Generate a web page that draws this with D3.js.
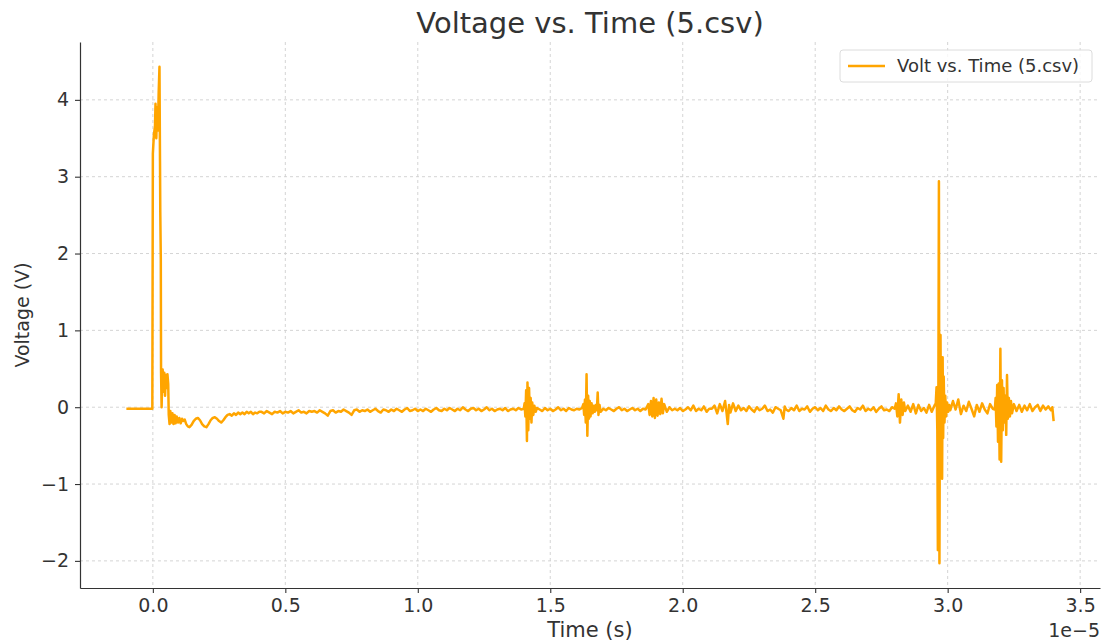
<html>
<head>
<meta charset="utf-8">
<style>
body { margin: 0; background: #fff; }
text { font-family: "DejaVu Sans", sans-serif; fill: #333; }
</style>
<script src="https://d3js.org/d3.v7.min.js"></script>
</head>
<body>
<svg id="chart" width=1105 height=643></svg>
<script>

// time is in units of 1e-5 s, voltage in V  -> [time, volt]
var preTrigger = [[-0.10,-0.02],[-0.07,-0.02],[-0.04,-0.02],[-0.01,-0.02],[-0.002,-0.02]];

var mainPulse = [[0.000,3.30],[0.004,3.55],[0.008,3.65],[0.010,3.95],[0.013,3.50],[0.016,3.90],[0.019,3.60],
  [0.022,4.10],[0.025,4.43],[0.027,3.20],[0.028,2.55],[0.030,1.92],[0.031,0.45],[0.033,0.00],[0.035,0.30],
  [0.037,0.49],[0.040,0.20],[0.043,0.45],[0.046,0.15],[0.049,0.42],[0.052,0.25],[0.055,0.43],[0.058,0.30],
  [0.060,-0.10],[0.063,-0.22]];

var ringDown = [[0.066,-0.05],[0.070,-0.20],[0.074,-0.08],[0.078,-0.22],[0.082,-0.10],[0.086,-0.21],[0.090,-0.12],
  [0.095,-0.20],[0.100,-0.14],[0.105,-0.21],[0.110,-0.15],[0.115,-0.18],[0.120,-0.16],[0.126,-0.22],[0.132,-0.25],
  [0.138,-0.26],[0.146,-0.23],[0.154,-0.18],[0.162,-0.15],[0.170,-0.14],[0.178,-0.17],[0.186,-0.22],[0.194,-0.25],
  [0.202,-0.26],[0.210,-0.22],[0.218,-0.17],[0.226,-0.14],[0.234,-0.13],[0.242,-0.15],[0.250,-0.18],[0.258,-0.20],
  [0.266,-0.17],[0.274,-0.13],[0.282,-0.10],[0.290,-0.09],[0.298,-0.11],[0.306,-0.08],[0.314,-0.10],[0.322,-0.07],
  [0.330,-0.09],[0.338,-0.07],[0.346,-0.09],[0.354,-0.06],[0.362,-0.08],[0.370,-0.06],[0.378,-0.09],[0.386,-0.07],
  [0.394,-0.08],[0.402,-0.06]];

var quietA = [[0.41,-0.06],[0.42,-0.08],[0.43,-0.05],[0.44,-0.07],[0.45,-0.09],[0.46,-0.06],[0.47,-0.07],[0.48,-0.05],[0.49,-0.08],[0.50,-0.06],
  [0.51,-0.07],[0.52,-0.05],[0.53,-0.08],[0.54,-0.06],[0.55,-0.04],[0.56,-0.07],[0.57,-0.06],[0.58,-0.08],[0.59,-0.05],[0.60,-0.06],
  [0.61,-0.05],[0.62,-0.07],[0.63,-0.04],[0.64,-0.06],[0.65,-0.08],[0.66,-0.11],[0.67,-0.05],[0.68,-0.04],[0.69,-0.07],[0.70,-0.05],
  [0.71,-0.06],[0.72,-0.03],[0.73,-0.05],[0.74,-0.07],[0.75,-0.10],[0.76,-0.04],[0.77,-0.03],[0.78,-0.06],[0.79,-0.04],[0.80,-0.05],
  [0.81,-0.03],[0.82,-0.06],[0.83,-0.04],[0.84,-0.02],[0.85,-0.05],[0.86,-0.07],[0.87,-0.03],[0.88,-0.04],[0.89,-0.06],[0.90,-0.03],
  [0.91,-0.05],[0.92,-0.02],[0.93,-0.04],[0.94,-0.06],[0.95,-0.03],[0.96,-0.01],[0.97,-0.05],[0.98,-0.04],[0.99,-0.02],[1.00,-0.05],
  [1.01,-0.03],[1.02,-0.05],[1.03,-0.02],[1.04,-0.04],[1.05,-0.06],[1.06,-0.03],[1.07,-0.01],[1.08,-0.04],[1.09,-0.05],[1.10,-0.02],
  [1.11,-0.04],[1.12,-0.01],[1.13,-0.03],[1.14,-0.05],[1.15,-0.02],[1.16,-0.04],[1.17,0.00],[1.18,-0.03],[1.19,-0.05],[1.20,-0.02],
  [1.21,-0.01],[1.22,-0.04],[1.23,-0.02],[1.24,-0.05],[1.25,-0.03],[1.26,0.00],[1.27,-0.04],[1.28,-0.02],[1.29,-0.05],[1.30,-0.03],
  [1.31,-0.02],[1.32,-0.04],[1.33,-0.01],[1.34,-0.05],[1.35,-0.03],[1.36,-0.02],[1.37,-0.04],[1.38,-0.01],[1.39,-0.03],[1.40,-0.02]];

var burst14 = [[1.403,0.05],[1.406,-0.12],[1.409,0.22],[1.412,-0.44],[1.414,0.32],[1.417,-0.30],[1.420,0.25],[1.423,-0.15],
  [1.426,0.12],[1.429,-0.20],[1.432,0.06],[1.436,-0.10],[1.440,0.02],[1.445,-0.06],[1.450,-0.01]];

var quietB = [[1.46,-0.03],[1.47,-0.05],[1.48,-0.01],[1.49,-0.04],[1.50,-0.02],[1.51,-0.05],[1.52,-0.03],[1.53,0.00],[1.54,-0.04],
  [1.55,-0.02],[1.56,-0.05],[1.57,-0.01],[1.58,-0.03],[1.59,-0.04],[1.60,-0.02],[1.61,-0.03],[1.62,-0.01]];

var burst16 = [[1.625,0.04],[1.628,-0.10],[1.631,0.10],[1.634,-0.20],[1.637,0.43],[1.640,-0.37],[1.643,0.15],[1.646,-0.15],
  [1.649,0.08],[1.652,-0.12],[1.656,0.05],[1.660,-0.08],[1.664,0.02],[1.668,-0.06],[1.672,0.03],[1.676,-0.04],[1.679,0.19],
  [1.682,-0.10],[1.686,0.03],[1.690,-0.06],[1.700,-0.02]];

var quietC = [[1.71,-0.04],[1.72,-0.01],[1.73,-0.03],[1.74,-0.05],[1.75,-0.02],[1.76,0.00],[1.77,-0.04],[1.78,-0.02],
  [1.79,-0.05],[1.80,-0.03],[1.81,-0.01],[1.82,-0.04],[1.83,-0.02],[1.84,-0.05],[1.85,-0.02],[1.86,-0.03]];

var burst19 = [[1.870,0.04],[1.875,-0.10],[1.880,0.08],[1.885,-0.12],[1.890,0.12],[1.895,-0.14],[1.900,0.10],[1.905,-0.11],
  [1.910,0.06],[1.915,-0.09],[1.920,0.11],[1.925,-0.08],[1.930,0.04],[1.940,-0.06],[1.950,0.00],[1.960,-0.04]];

var quietD = [[1.97,-0.02],[1.98,-0.04],[1.99,-0.01],[2.00,-0.05],[2.01,-0.03],[2.02,0.00],[2.03,-0.04],[2.04,0.02],[2.05,-0.05],
  [2.06,-0.02],[2.07,-0.04],[2.08,0.01],[2.09,-0.06],[2.10,-0.02],[2.11,-0.02],[2.12,0.02],[2.13,-0.08],[2.14,0.04],[2.15,-0.05],
  [2.16,0.08],[2.165,-0.06],[2.170,-0.22],[2.175,0.03],[2.18,-0.07],[2.19,0.05],[2.20,-0.05],[2.21,0.02],[2.22,-0.04],[2.23,-0.01]];

var quietE = [[2.24,-0.05],[2.25,0.01],[2.26,-0.03],[2.27,-0.06],[2.28,0.00],[2.29,-0.04],[2.30,-0.02],[2.31,0.02],[2.32,-0.05],
  [2.33,-0.03],[2.34,-0.07],[2.35,0.00],[2.36,-0.02],[2.37,-0.04],[2.38,-0.15],[2.385,0.01],[2.39,-0.03],[2.40,-0.05],
  [2.41,-0.01],[2.42,-0.04],[2.43,0.02],[2.44,-0.05],[2.45,-0.02],[2.46,-0.03],[2.47,0.01],[2.48,-0.06],[2.49,-0.02],[2.50,0.00],
  [2.51,-0.04],[2.52,-0.01],[2.53,-0.05],[2.54,0.02],[2.55,-0.03],[2.56,-0.05],[2.57,-0.01],[2.58,-0.04],[2.59,0.01],[2.60,-0.03],
  [2.61,-0.05],[2.62,-0.02],[2.63,0.01],[2.64,-0.04],[2.65,-0.06],[2.66,-0.01],[2.67,-0.03],[2.68,0.02],[2.69,-0.05],[2.70,-0.02],
  [2.71,-0.04],[2.72,0.00],[2.73,-0.06],[2.74,-0.02],[2.75,0.01],[2.76,-0.04],[2.77,-0.03],[2.78,-0.05],[2.79,0.00],[2.80,-0.02]];

var burst28 = [[2.805,0.05],[2.810,-0.12],[2.815,0.17],[2.820,-0.20],[2.825,0.10],[2.830,-0.10],[2.835,0.06],[2.840,-0.05],
  [2.850,0.02],[2.860,-0.06],[2.870,0.04],[2.880,-0.08],[2.890,0.03],[2.900,-0.05],[2.910,-0.01],[2.920,-0.07],[2.930,0.03],
  [2.940,-0.06],[2.950,0.02]];

var spike30 = [[2.955,0.05],[2.958,0.26],[2.961,-0.30],[2.963,-1.86],[2.965,0.30],[2.967,2.94],[2.969,-2.03],[2.971,0.60],
  [2.973,0.94],[2.975,-0.50],[2.977,0.50],[2.979,-0.93],[2.981,0.65],[2.983,-0.40],[2.985,0.40],[2.988,-0.20],[2.991,0.15],
  [2.994,-0.12],[2.998,0.06],[3.002,-0.06],[3.006,0.03],[3.010,-0.04]];

var quietF = [[3.02,0.08],[3.03,-0.03],[3.04,0.10],[3.05,-0.09],[3.06,0.02],[3.07,-0.05],[3.08,0.07],[3.09,-0.02],[3.10,-0.12],
  [3.11,0.03],[3.12,-0.06],[3.13,0.05],[3.14,-0.03],[3.15,-0.08],[3.16,0.04],[3.17,-0.02],[3.178,-0.03]];

var burst32 = [[3.181,0.12],[3.184,-0.25],[3.187,0.29],[3.190,-0.45],[3.193,0.31],[3.196,-0.68],[3.199,0.76],[3.202,-0.71],
  [3.205,0.35],[3.208,-0.30],[3.211,0.25],[3.214,-0.20],[3.218,0.15],[3.221,-0.36],[3.224,0.42],[3.227,-0.15],[3.231,0.12],
  [3.235,-0.12],[3.239,0.08],[3.243,-0.08],[3.250,0.04],[3.260,-0.05]];

var tail = [[3.27,0.03],[3.28,-0.06],[3.29,0.02],[3.30,-0.04],[3.31,0.04],[3.32,-0.05],[3.33,0.00],[3.34,0.03],[3.35,-0.05],
  [3.36,0.02],[3.37,-0.03],[3.38,0.01],[3.39,-0.04],[3.395,0.00],[3.40,-0.18]];

var xTicks = [0.0, 0.5, 1.0, 1.5, 2.0, 2.5, 3.0, 3.5];
var yTicks = [-2, -1, 0, 1, 2, 3, 4];

var trace = preTrigger.concat(mainPulse, ringDown, quietA, burst14, quietB, burst16, quietC, burst19,
  quietD, quietE, burst28, spike30, quietF, burst32, tail);

var padL = 80, padR = 1100, padT = 42, padB = 588;
var svg = d3.select("#chart");

// 5% padding like matplotlib
var xExt = d3.extent(trace, function(d){ return d[0]; });
var yExt = d3.extent(trace, function(d){ return d[1]; });
var xPad = (xExt[1]-xExt[0])*0.05, yPad = (yExt[1]-yExt[0])*0.05;

var x = d3.scaleLinear().domain([xExt[0]-xPad, xExt[1]+xPad]).range([padL, padR]);
var y = d3.scaleLinear().domain([yExt[0]-yPad, yExt[1]+yPad]).range([padB, padT]);

// grid
svg.append("g").selectAll("line").data(xTicks).enter().append("line")
  .attr("x1", function(d){ return x(d); }).attr("x2", function(d){ return x(d); })
  .attr("y1", padT).attr("y2", padB)
  .attr("stroke", "#cfcfcf").attr("stroke-width", 0.9).attr("stroke-dasharray", "3,3");
svg.append("g").selectAll("line").data(yTicks).enter().append("line")
  .attr("y1", function(d){ return y(d); }).attr("y2", function(d){ return y(d); })
  .attr("x1", padL).attr("x2", padR)
  .attr("stroke", "#cfcfcf").attr("stroke-width", 0.9).attr("stroke-dasharray", "3,3");

// the line
svg.append("path")
  .datum(trace)
  .attr("fill", "none")
  .attr("stroke", "#FFA500")
  .attr("stroke-width", 2.5)
  .attr("stroke-linejoin", "round")
  .attr("d", d3.line()
    .x(function(d){ return x(d[0]); })
    .y(function(d){ return y(d[1]); }));

// axes (only left + bottom spines)
var xAxis = svg.append("g")
  .attr("transform", "translate(0," + padB + ")")
  .call(d3.axisBottom(x).tickValues(xTicks).tickFormat(d3.format(".1f")).tickSize(5).tickSizeOuter(0).tickPadding(6));
var yAxis = svg.append("g")
  .attr("transform", "translate(" + padL + ",0)")
  .call(d3.axisLeft(y).tickValues(yTicks).tickFormat(d3.format("d")).tickSize(5).tickSizeOuter(0).tickPadding(6));
[xAxis, yAxis].forEach(function(a){
  a.select(".domain").attr("stroke", "#333").attr("stroke-width", 1.2);
  a.selectAll(".tick line").attr("stroke", "#333").attr("stroke-width", 1.1);
  a.selectAll(".tick text").attr("font-family", "DejaVu Sans").attr("font-size", 19).attr("fill", "#333");
});

// texts
svg.append("text").attr("x", (padL+padR)/2).attr("y", 33).attr("text-anchor", "middle")
  .attr("font-size", 29).text("Voltage vs. Time (5.csv)");
svg.append("text").attr("x", (padL+padR)/2).attr("y", 637).attr("text-anchor", "middle")
  .attr("font-size", 21).text("Time (s)");
svg.append("text").attr("transform", "translate(29," + ((padT+padB)/2) + ") rotate(-90)")
  .attr("text-anchor", "middle").attr("font-size", 19).text("Voltage (V)");
svg.append("text").attr("x", padR).attr("y", 637).attr("text-anchor", "end")
  .attr("font-size", 19).text("1e\u22125");

// legend
var lg = svg.append("g").attr("transform", "translate(840,50)");
lg.append("rect").attr("width", 252).attr("height", 32).attr("rx", 3)
  .attr("fill", "#fff").attr("fill-opacity", 0.8).attr("stroke", "#dcdcdc");
lg.append("line").attr("x1", 8).attr("x2", 45).attr("y1", 16).attr("y2", 16)
  .attr("stroke", "#FFA500").attr("stroke-width", 2.5);
lg.append("text").attr("x", 57).attr("y", 22).attr("font-size", 18).text("Volt vs. Time (5.csv)");

</script>
</body>
</html>
